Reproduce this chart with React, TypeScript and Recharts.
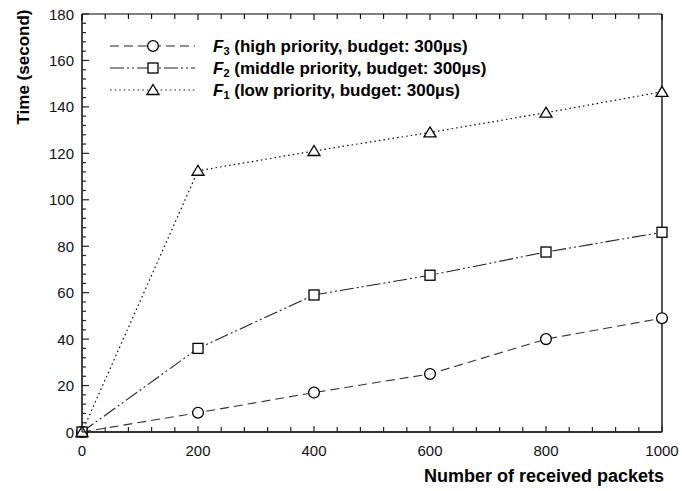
import React from "react";
import { LineChart, Line, XAxis, YAxis } from "recharts";

const packets = [0, 200, 400, 600, 800, 1000];
const f3High = [0, 8.3, 17, 25, 40, 49];
const f2Middle = [0, 36, 59, 67.5, 77.5, 86];
const f1Low = [0, 112.5, 121, 129, 137.5, 146.5];

const xMajor = [0, 200, 400, 600, 800, 1000];
const yMajor = [0, 20, 40, 60, 80, 100, 120, 140, 160, 180];
const xMinorStep = 40;
const yMinorStep = 4;

const seriesNames = [
  { sub: "3", text: " (high priority, budget: 300\u00b5s)" },
  { sub: "2", text: " (middle priority, budget: 300\u00b5s)" },
  { sub: "1", text: " (low priority, budget: 300\u00b5s)" },
];

const data = packets.map((p, i) => ({ p, f3: f3High[i], f2: f2Middle[i], f1: f1Low[i] }));

const steps = (max: number, step: number) => {
  const out: number[] = [];
  for (let v = 0; v <= max; v += step) out.push(v);
  return out;
};
const xTicks = steps(xMajor[xMajor.length - 1], xMinorStep);
const yTicks = steps(yMajor[yMajor.length - 1], yMinorStep);

const W = 682;
const H = 491;
// every axis is 1px thick, so the plot box ends up at 82..662 x 14..432
const M = { top: 13, right: 19, left: 81, bottom: 58 };
const FONT = "Arial, 'Liberation Sans', sans-serif";
const INK = "#222";

const DASH = { f3: "9 5", f2: "14 3 2 3 2 3", f1: "1.6 3" };

type Shape = "circle" | "square" | "triangle";

const Marker = ({ cx, cy, shape }: { cx: number; cy: number; shape: Shape }) => {
  const s = { fill: "#fff", stroke: "#000", strokeWidth: 1.3 };
  if (shape === "circle") return <circle cx={cx} cy={cy} r={5.4} {...s} />;
  if (shape === "square") return <rect x={cx - 5} y={cy - 5} width={10} height={10} {...s} />;
  return <path d={`M${cx},${cy - 5.5} L${cx + 6},${cy + 4.5} L${cx - 6},${cy + 4.5} Z`} {...s} />;
};

const dotFor = (shape: Shape) => (props: any) => (
  <Marker key={`${shape}-${props.index}`} cx={props.cx} cy={props.cy} shape={shape} />
);

const isMajor = (v: number, list: number[]) => list.includes(v);

// inward ticks, labels outside
const BottomTick = (props: any) => {
  const { x, y, payload } = props;
  const major = isMajor(payload.value, xMajor);
  return (
    <g>
      <line x1={x} x2={x} y1={y} y2={y - (major ? 6 : 5)} stroke={INK} strokeWidth={1.2} />
      {major && (
        <text x={x} y={y + 24} textAnchor="middle" fontSize={15} fontFamily={FONT} fill="#111">
          {payload.value}
        </text>
      )}
    </g>
  );
};

const TopTick = (props: any) => {
  const { x, y, payload } = props;
  const major = isMajor(payload.value, xMajor);
  return <line x1={x} x2={x} y1={y} y2={y + (major ? 6 : 5)} stroke="#000" strokeWidth={1.1} />;
};

const LeftTick = (props: any) => {
  const { x, y, payload } = props;
  const major = isMajor(payload.value, yMajor);
  return (
    <g>
      <line x1={x} x2={x + (major ? 7 : 4)} y1={y} y2={y} stroke={INK} strokeWidth={1.2} />
      {major && (
        <text x={x - 8} y={y + 5.5} textAnchor="end" fontSize={15} fontFamily={FONT} fill="#111">
          {payload.value}
        </text>
      )}
    </g>
  );
};

const RightTick = (props: any) => {
  const { x, y, payload } = props;
  const major = isMajor(payload.value, yMajor);
  return <line x1={x} x2={x - (major ? 7 : 4)} y1={y} y2={y} stroke="#555" strokeWidth={1.2} />;
};

const legendRows: { key: "f3" | "f2" | "f1"; shape: Shape }[] = [
  { key: "f3", shape: "circle" },
  { key: "f2", shape: "square" },
  { key: "f1", shape: "triangle" },
];

const LegendBox = () => (
  <g>
    {legendRows.map((r, i) => {
      const y = 46 + i * 22;
      return (
        <g key={r.key}>
          <line x1={110} x2={195} y1={y} y2={y} stroke={INK} strokeWidth={1.1} strokeDasharray={DASH[r.key]} />
          <Marker cx={153} cy={y} shape={r.shape} />
          <text x={213} y={y + 6} fontSize={17} fontWeight="bold" fontFamily={FONT} fill="#000">
            <tspan fontStyle="italic">F</tspan>
            <tspan fontSize={11} dy={3}>{seriesNames[i].sub}</tspan>
            <tspan dy={-3}>{seriesNames[i].text}</tspan>
          </text>
        </g>
      );
    })}
  </g>
);

export default function App() {
  return (
    <div style={{ position: "absolute", left: 0, top: 0, width: W, height: H, background: "#fff" }}>
      <LineChart width={W} height={H} data={data} margin={M}>
        <XAxis
          xAxisId="top"
          orientation="top"
          type="number"
          dataKey="p"
          domain={[0, 1000]}
          ticks={xTicks}
          interval={0}
          height={1}
          tickSize={0}
          tickMargin={0}
          tickLine={false}
          tick={TopTick}
          axisLine={{ stroke: "#000", strokeWidth: 1 }}
        />
        <YAxis
          yAxisId="right"
          orientation="right"
          type="number"
          domain={[0, 180]}
          ticks={yTicks}
          interval={0}
          width={1}
          tickSize={0}
          tickMargin={0}
          tickLine={false}
          tick={RightTick}
          axisLine={{ stroke: "#555", strokeWidth: 2 }}
        />
        <XAxis
          xAxisId="main"
          type="number"
          dataKey="p"
          domain={[0, 1000]}
          ticks={xTicks}
          interval={0}
          height={1}
          tickSize={0}
          tickMargin={0}
          tickLine={false}
          tick={BottomTick}
          axisLine={{ stroke: "#333", strokeWidth: 1.8 }}
        />
        <YAxis
          yAxisId="main"
          type="number"
          domain={[0, 180]}
          ticks={yTicks}
          interval={0}
          width={1}
          tickSize={0}
          tickMargin={0}
          tickLine={false}
          tick={LeftTick}
          axisLine={{ stroke: "#333", strokeWidth: 1.8 }}
        />
        <Line
          xAxisId="main"
          yAxisId="main"
          dataKey="f3"
          stroke="#333"
          strokeWidth={1.1}
          strokeDasharray={DASH.f3}
          dot={dotFor("circle")}
          isAnimationActive={false}
        />
        <Line
          xAxisId="main"
          yAxisId="main"
          dataKey="f2"
          stroke="#222"
          strokeWidth={1.1}
          strokeDasharray={DASH.f2}
          dot={dotFor("square")}
          isAnimationActive={false}
        />
        <Line
          xAxisId="main"
          yAxisId="main"
          dataKey="f1"
          stroke="#111"
          strokeWidth={1.2}
          strokeDasharray={DASH.f1}
          dot={dotFor("triangle")}
          isAnimationActive={false}
        />
        <LegendBox />
        <text
          transform="translate(29, 67) rotate(-90)"
          textAnchor="middle"
          fontSize={17}
          fontWeight="bold"
          fontFamily={FONT}
          fill="#000"
        >
          Time (second)
        </text>
        <text x={664} y={482} textAnchor="end" fontSize={18} fontWeight="bold" fontFamily={FONT} fill="#000">
          Number of received packets
        </text>
      </LineChart>
    </div>
  );
}
